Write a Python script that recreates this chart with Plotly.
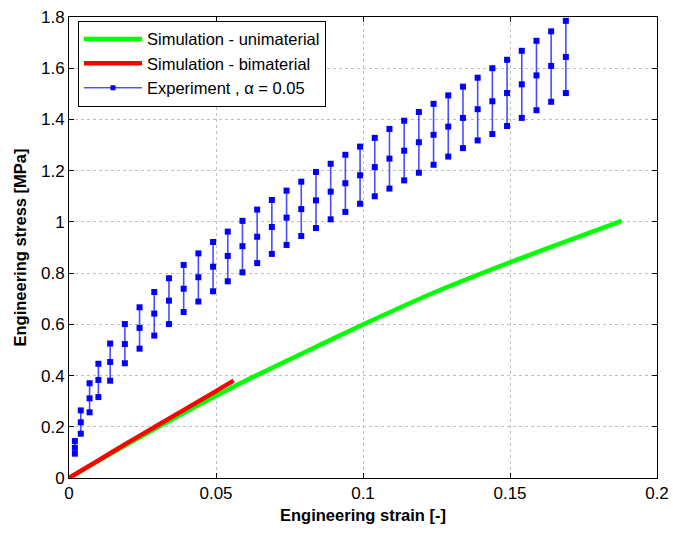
import plotly.graph_objects as go

# Experiment data (strain, mean stress, upper, lower)
exp_strain = [0.002, 0.004, 0.007, 0.010, 0.014, 0.019, 0.024, 0.029, 0.034, 0.039, 0.044, 0.049,
              0.054, 0.059, 0.064, 0.069, 0.074, 0.079, 0.084, 0.089, 0.094, 0.099, 0.104, 0.109,
              0.114, 0.119, 0.124, 0.129, 0.134, 0.139, 0.144, 0.149, 0.154, 0.159, 0.164, 0.169]
exp_mean = [0.118, 0.2175, 0.311, 0.383, 0.453, 0.523, 0.586, 0.642, 0.6925, 0.739, 0.784, 0.825,
            0.867, 0.905, 0.942, 0.980, 1.0165, 1.050, 1.084, 1.118, 1.151, 1.182, 1.214, 1.247,
            1.278, 1.311, 1.340, 1.372, 1.406, 1.440, 1.471, 1.503, 1.537, 1.572, 1.609, 1.644]
exp_upper = [0.1445, 0.264, 0.370, 0.446, 0.525, 0.601, 0.6665, 0.726, 0.780, 0.832, 0.877, 0.9215,
             0.962, 1.004, 1.048, 1.0855, 1.122, 1.157, 1.195, 1.227, 1.262, 1.294, 1.328, 1.363,
             1.395, 1.429, 1.461, 1.494, 1.528, 1.563, 1.600, 1.633, 1.668, 1.707, 1.744, 1.785]
exp_lower = [0.095, 0.173, 0.2565, 0.316, 0.380, 0.448, 0.505, 0.556, 0.601, 0.648, 0.689, 0.729,
             0.768, 0.803, 0.839, 0.875, 0.910, 0.945, 0.976, 1.010, 1.039, 1.071, 1.100, 1.130,
             1.162, 1.192, 1.223, 1.255, 1.288, 1.318, 1.343, 1.3745, 1.406, 1.436, 1.469, 1.503]

# Simulation curves
uni_strain = [0, 0.01, 0.02, 0.03, 0.04, 0.05, 0.06, 0.08, 0.1, 0.125, 0.15, 0.17, 0.188]
uni_stress = [0, 0.067, 0.133, 0.197, 0.26, 0.321, 0.380, 0.490, 0.599, 0.728, 0.842, 0.928, 1.004]
bi_strain = [0, 0.01, 0.02, 0.03, 0.04, 0.05, 0.056]
bi_stress = [0, 0.069, 0.138, 0.205, 0.272, 0.339, 0.38]

x_ticks = [0, 0.05, 0.1, 0.15, 0.2]
x_ticklabels = ["0", "0.05", "0.1", "0.15", "0.2"]
y_ticks = [0, 0.2, 0.4, 0.6, 0.8, 1.0, 1.2, 1.4, 1.6, 1.8]
y_ticklabels = ["0", "0.2", "0.4", "0.6", "0.8", "1", "1.2", "1.4", "1.6", "1.8"]

BLUE = "#0000ff"
FONT = "Liberation Sans, Arial, sans-serif"
fig = go.Figure()

fig.add_trace(go.Scatter(x=uni_strain, y=uni_stress, mode="lines",
                         line=dict(color="#00ff00", width=4.5, shape="spline", smoothing=0.6),
                         name="Simulation - unimaterial"))
fig.add_trace(go.Scatter(x=bi_strain, y=bi_stress, mode="lines",
                         line=dict(color="#ff0000", width=4.5, shape="spline", smoothing=0.6),
                         name="Simulation - bimaterial"))

err_plus = [u - m for u, m in zip(exp_upper, exp_mean)]
err_minus = [m - l for m, l in zip(exp_mean, exp_lower)]
fig.add_trace(go.Scatter(x=exp_strain, y=exp_mean, mode="markers",
                         marker=dict(symbol="square", size=6, color=BLUE),
                         error_y=dict(type="data", symmetric=False, array=err_plus,
                                      arrayminus=err_minus, color="rgba(30,30,255,0.8)",
                                      thickness=1.6, width=0),
                         showlegend=False))
fig.add_trace(go.Scatter(x=exp_strain + exp_strain, y=exp_upper + exp_lower, mode="markers",
                         marker=dict(symbol="square", size=6, color=BLUE),
                         showlegend=False))
fig.add_trace(go.Scatter(x=[None], y=[None], mode="lines+markers",
                         line=dict(color=BLUE, width=1),
                         marker=dict(symbol="square", size=5, color=BLUE),
                         name="Experiment , α = 0.05"))

axis_common = dict(showline=True, linecolor="black", linewidth=1, mirror="ticks",
                   ticks="inside", ticklen=5, tickcolor="black", automargin=False,
                   showgrid=True, gridcolor="#c0c0c0", griddash="dot", gridwidth=1,
                   zeroline=False, tickfont=dict(family=FONT, size=17, color="black"))

fig.update_xaxes(range=[0, 0.2], tickvals=x_ticks, ticktext=x_ticklabels,
                 title=dict(text="<b>Engineering strain [-]</b>", standoff=7,
                            font=dict(family=FONT, size=16.5, color="black")),
                 **axis_common)
fig.update_yaxes(range=[0, 1.8], tickvals=y_ticks, ticktext=y_ticklabels,
                 title=dict(text="<b>Engineering stress [MPa]</b>", standoff=10,
                            font=dict(family=FONT, size=16.5, color="black")),
                 **axis_common)

fig.update_layout(
    width=673, height=533,
    margin=dict(l=69, r=16, t=17, b=55, autoexpand=False),
    plot_bgcolor="white", paper_bgcolor="white",
    font=dict(family=FONT, size=16, color="black"),
    legend=dict(x=0.0153, y=0.992, xanchor="left", yanchor="top",
                bgcolor="white", bordercolor="black", borderwidth=1,
                font=dict(family=FONT, size=16.5, color="black"),
                itemwidth=58, tracegroupgap=0),
)

fig.write_html("out.html")
